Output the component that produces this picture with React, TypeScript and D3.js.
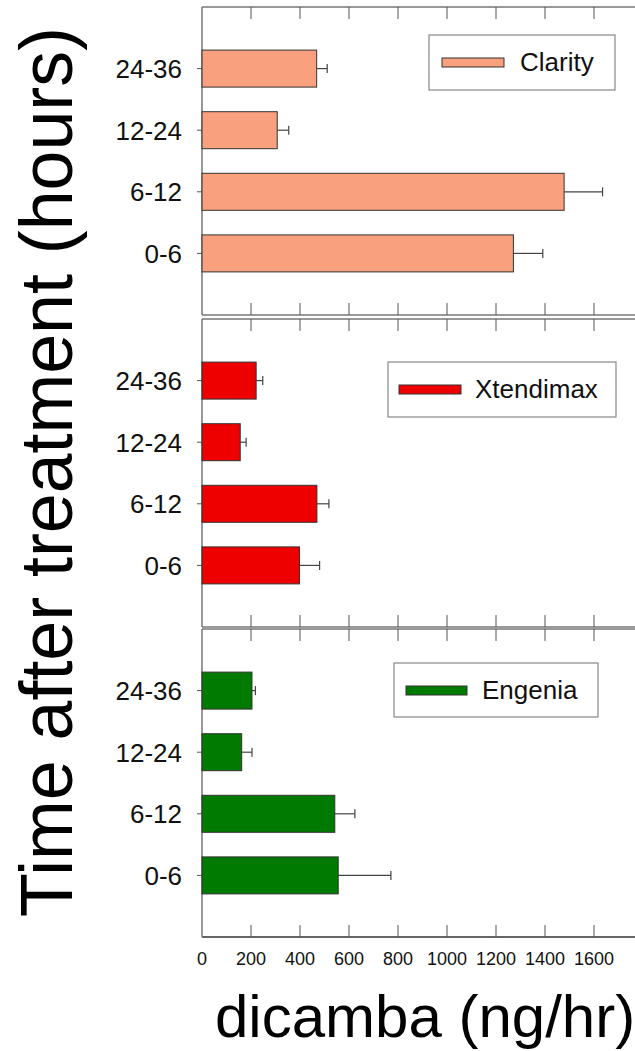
import * as d3 from "d3";
import React from "react";

const periods = ["0-6", "6-12", "12-24", "24-36"];
const products = ["Clarity", "Xtendimax", "Engenia"];
const clarity = [1271, 1478, 307, 468];
const clarityErr = [120, 157, 47, 43];
const xtendimax = [398, 469, 156, 221];
const xtendimaxErr = [82, 49, 24, 27];
const engenia = [556, 542, 162, 204];
const engeniaErr = [215, 82, 42, 14];
const xTicks = [0, 200, 400, 600, 800, 1000, 1200, 1400, 1600];

const font = "'Liberation Sans', Arial, sans-serif";
const W = 635;
const H = 1051;
const panelTops = [7, 319, 629];
const panelH = 308;
const fills = ["#F9A07E", "#EE0000", "#007A00"];
const legendPos = [
  { x: 429, y: 28, w: 186, h: 55, sx: 442, sw: 62, tx: 520 },
  { x: 388, y: 43, w: 228, h: 55, sx: 399, sw: 62, tx: 475 },
  { x: 394, y: 34, w: 204, h: 54, sx: 406, sw: 61, tx: 482 },
];

export default function App() {
  const values = [clarity, xtendimax, engenia];
  const errors = [clarityErr, xtendimaxErr, engeniaErr];
  const x = d3.scaleLinear().domain([0, 1800]).range([202, 643]);
  const barH = 37;

  return (
    <svg
      width={W}
      height={H}
      style={{ position: "absolute", left: 0, top: 0, background: "#fff" }}
      fontFamily={font}
    >
      {products.map((name, p) => {
        const top = panelTops[p];
        const y = d3
          .scalePoint()
          .domain(periods)
          .range([top + panelH, top])
          .padding(1);
        const lg = legendPos[p];
        return (
          <g key={name}>
            {/* frame */}
            <line x1={202} x2={W + 10} y1={top} y2={top} stroke="#777" strokeWidth={1.5} />
            <line x1={202} x2={W + 10} y1={top + panelH} y2={top + panelH} stroke={p === 2 ? "#333" : "#777"} strokeWidth={1.5} />
            <line x1={202} x2={202} y1={top} y2={top + panelH} stroke="#777" strokeWidth={1.5} />
            {xTicks.slice(1).map((t) => (
              <g key={t}>
                <line x1={x(t)} x2={x(t)} y1={top} y2={top + 12} stroke="#555" />
                <line x1={x(t)} x2={x(t)} y1={top + panelH} y2={top + panelH - 12} stroke="#555" />
              </g>
            ))}
            {periods.map((c, i) => {
              const cy = y(c)!;
              const v = values[p][i];
              const e = errors[p][i];
              return (
                <g key={c}>
                  <line x1={197} x2={202} y1={cy} y2={cy} stroke="#555" />
                  <text x={182} y={cy} dy="0.36em" textAnchor="end" fontSize={26} fill="#111">
                    {c}
                  </text>
                  <line x1={x(v)} x2={x(v + e)} y1={cy} y2={cy} stroke="#444" strokeWidth={1.2} />
                  <line x1={x(v + e)} x2={x(v + e)} y1={cy - 4.5} y2={cy + 4.5} stroke="#444" strokeWidth={1.2} />
                  <rect
                    x={x(0)}
                    y={cy - barH / 2}
                    width={x(v) - x(0)}
                    height={barH}
                    fill={fills[p]}
                    stroke="#333"
                    strokeWidth={1}
                  />
                </g>
              );
            })}
            {/* legend */}
            <rect x={lg.x} y={top + lg.y} width={lg.w} height={lg.h} fill="#fff" stroke="#888" strokeWidth={1.2} />
            <rect x={lg.sx} y={top + lg.y + 23} width={lg.sw} height={9} fill={fills[p]} stroke="#333" />
            <text x={lg.tx} y={top + lg.y + 36} fontSize={26} fill="#111">
              {name}
            </text>
          </g>
        );
      })}
      {xTicks.map((t) => (
        <text key={t} x={x(t)} y={965} textAnchor="middle" fontSize={18} fill="#111">
          {t}
        </text>
      ))}
      <text x={215} y={1037} fontSize={60} fill="#000">
        dicamba (ng/hr)
      </text>
      <text
        transform="translate(72,917) rotate(-90)"
        fontSize={74}
        textLength={890}
        lengthAdjust="spacingAndGlyphs"
        fill="#000"
      >
        Time after treatment (hours)
      </text>
    </svg>
  );
}
